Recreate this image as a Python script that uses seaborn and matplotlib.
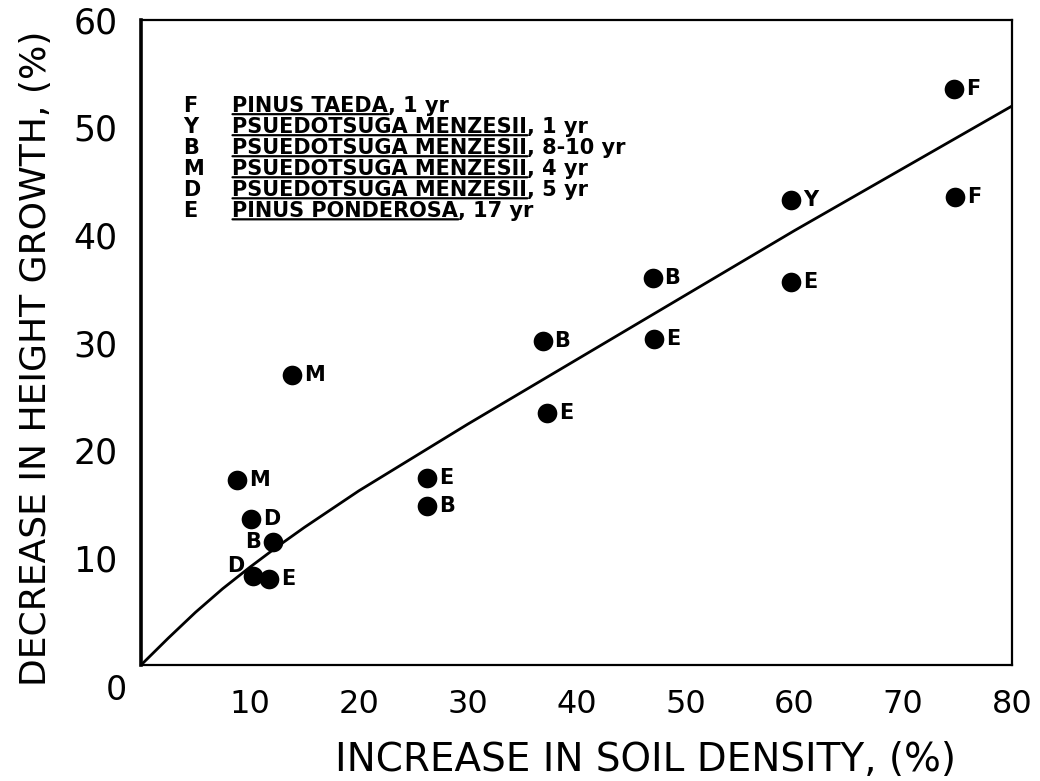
import matplotlib
matplotlib.use("Agg")
import matplotlib.pyplot as plt
import seaborn as sns
import pandas as pd

# ---- data ----
soil_density = [74.7, 74.8, 59.7, 59.7, 47.0, 47.1, 36.9, 37.3, 26.3, 26.3, 13.9, 8.8, 10.1, 12.1, 10.3, 11.8]
height_growth = [53.6, 43.5, 43.3, 35.6, 36.0, 30.3, 30.1, 23.4, 17.4, 14.8, 27.0, 17.2, 13.6, 11.4, 8.3, 8.0]
species_code = ["F", "F", "Y", "E", "B", "E", "B", "E", "E", "B", "M", "M", "D", "B", "D", "E"]
label_side = ["r", "r", "r", "r", "r", "r", "r", "r", "r", "r", "r", "r", "r", "l", "ul", "r"]

curve_x = [0, 2.5, 5, 7.5, 10, 12.5, 15, 20, 25, 30, 40, 50, 60, 70, 80]
curve_y = [0, 2.5, 4.9, 7.1, 9.1, 11.0, 12.8, 16.2, 19.3, 22.4, 28.4, 34.4, 40.4, 46.2, 52.0]

legend_codes = ["F", "Y", "B", "M", "D", "E"]
legend_species = ["PINUS TAEDA", "PSUEDOTSUGA MENZESII", "PSUEDOTSUGA MENZESII",
                  "PSUEDOTSUGA MENZESII", "PSUEDOTSUGA MENZESII", "PINUS PONDEROSA"]
legend_ages = [", 1 yr", ", 1 yr", ", 8-10 yr", ", 4 yr", ", 5 yr", ", 17 yr"]

x_ticks = [0, 10, 20, 30, 40, 50, 60, 70, 80]
y_ticks = [0, 10, 20, 30, 40, 50, 60]
x_title = "INCREASE IN SOIL DENSITY, (%)"
y_title = "DECREASE IN HEIGHT GROWTH, (%)"

points = pd.DataFrame({"x": soil_density, "y": height_growth, "code": species_code})
curve = pd.DataFrame({"x": curve_x, "y": curve_y})

sns.set_style("white")
plt.rcParams["font.family"] = ["DejaVu Sans"]

fig = plt.figure(figsize=(10.4, 7.81), dpi=100)
ax = fig.add_axes([0.1356, 0.1485, 0.8375, 0.8259])

sns.lineplot(data=curve, x="x", y="y", ax=ax, color="black", linewidth=2.0, zorder=2)
sns.scatterplot(data=points, x="x", y="y", ax=ax, color="black", s=200,
                edgecolor="black", linewidth=0, zorder=3)

# point letters
for x, y, c, side in zip(soil_density, height_growth, species_code, label_side):
    if side == "r":
        off, ha, va = (8.5, 0), "left", "center"
    elif side == "l":
        off, ha, va = (-8.5, 0), "right", "center"
    else:
        off, ha, va = (-6, 7), "right", "center"
    ax.annotate(c, (x, y), xytext=off, textcoords="offset points", ha=ha, va=va,
                fontsize=15, fontweight="bold", color="black", zorder=4)

ax.set_xlim(0, 80)
ax.set_ylim(0, 60)
ax.set_xticks(x_ticks)
ax.set_yticks(y_ticks)
ax.set_xticklabels(["" if t == 0 else str(t) for t in x_ticks])
ax.set_yticklabels(["" if t == 0 else str(t) for t in y_ticks])
ax.tick_params(axis="both", direction="out", length=8, width=1.5, colors="black")
ax.tick_params(axis="y", pad=9, labelsize=25)
ax.tick_params(axis="x", pad=9, labelsize=23)

# origin label
ax.text(-0.028, -0.04, "0", transform=ax.transAxes, ha="center", va="center",
        fontsize=24, color="black")

ax.set_xlabel(x_title, fontsize=28, color="black")
ax.set_ylabel(y_title, fontsize=26, color="black")
ax.xaxis.set_label_coords(0.579, -0.118)
ax.yaxis.set_label_coords(-0.101, 0.475)

for name, sp in ax.spines.items():
    sp.set_visible(True)
    sp.set_color("black")
    sp.set_linewidth(1.6)
ax.spines["left"].set_linewidth(2.6)

# legend block (codes with underlined species names)
row_top = 0.867
row_step = 0.0326
for i, (code, sp_name, age) in enumerate(zip(legend_codes, legend_species, legend_ages)):
    yy = row_top - i * row_step
    ax.text(0.048, yy, code, transform=ax.transAxes, ha="left", va="center",
            fontsize=15, fontweight="bold", color="black")
    nm = ax.text(0.105, yy, sp_name, transform=ax.transAxes, ha="left", va="center",
                 fontsize=15, fontweight="bold", color="black")
    ax.annotate(age, xy=(1, 0), xycoords=nm, ha="left", va="bottom",
                fontsize=15, fontweight="bold", color="black")
    ax.annotate("", xy=(0, 0.08), xytext=(1, 0.08), xycoords=nm, textcoords=nm,
                arrowprops=dict(arrowstyle="-", lw=1.6, color="black",
                                shrinkA=0, shrinkB=0))

fig.savefig("out.png", dpi=100, facecolor="white")
